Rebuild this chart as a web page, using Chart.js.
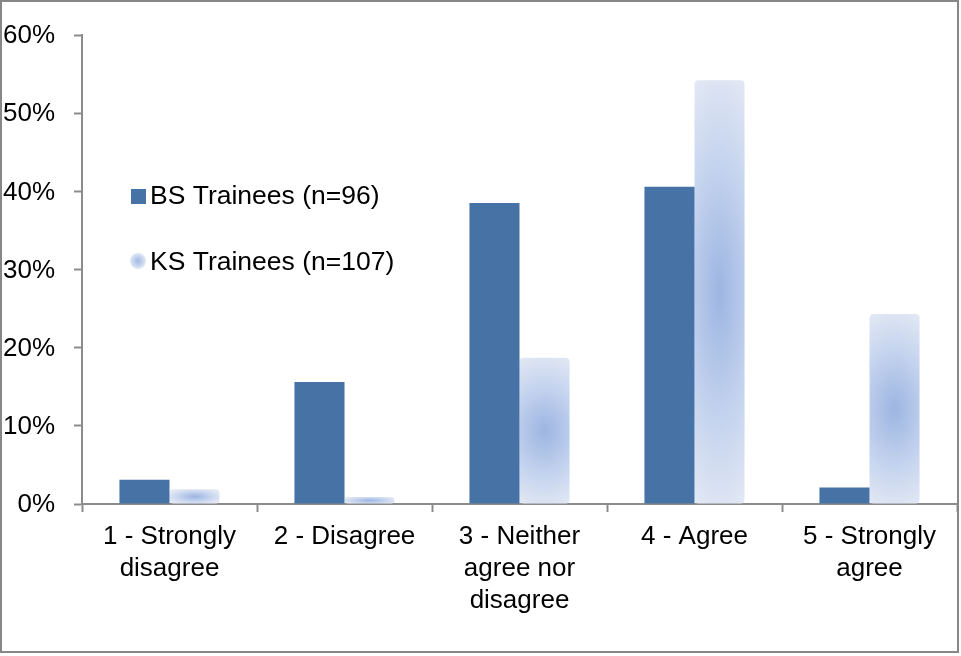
<!DOCTYPE html>
<html>
<head>
<meta charset="utf-8">
<script src="https://cdn.jsdelivr.net/npm/chart.js@4"></script>
<style>
  html, body { margin: 0; padding: 0; background: #fff; }
  #wrap { width: 961px; height: 656px; position: relative; }
</style>
</head>
<body>
<div id="wrap"><canvas id="c" width="961" height="656"></canvas></div>
<script>
// Survey response categories (multi-line axis labels)
const categories = [
  ["1 - Strongly", "disagree"],
  ["2 - Disagree"],
  ["3 - Neither", "agree nor", "disagree"],
  ["4 - Agree"],
  ["5 - Strongly", "agree"]
];
const seriesNames = ["BS Trainees (n=96)", "KS Trainees (n=107)"];
// Share of respondents, in percent
const bsValues = [3.1, 15.6, 38.5, 40.6, 2.1];
const ksValues = [1.9, 0.9, 18.7, 54.2, 24.3];
const yTickValues = [0, 10, 20, 30, 40, 50, 60];

const FONT = '"Liberation Sans", Arial, sans-serif';
const AXIS_GRAY = '#8c8c8c';
const BS_COLOR = '#4672a6';
const CAT_PCT = 0.572;

// Soft radial fill for the KS bars, centred on each bar
function ksFill(ctx) {
  const chart = ctx.chart;
  if (ctx.type !== 'data' || !chart.scales || !chart.scales.x || !chart.chartArea) return '#c5d4ee';
  const xs = chart.scales.x, ys = chart.scales.y;
  const i = ctx.dataIndex;
  const slot = xs.width / categories.length * CAT_PCT / 2;
  const cx = xs.getPixelForValue(i) + slot / 2;
  const top = ys.getPixelForValue(ksValues[i]);
  const base = ys.getPixelForValue(0);
  const cy = (top + base) / 2;
  const halfH = Math.max((base - top) / 2, 4);
  const rx = Math.min(slot / 2 * 2.4, Math.max(halfH * 1.1, slot / 2 * 1.1));
  const ry = halfH * 1.08;
  const off = document.createElement('canvas');
  off.width = chart.width; off.height = chart.height;
  const o = off.getContext('2d');
  o.translate(cx, cy);
  o.scale(rx, ry);
  const g = o.createRadialGradient(0, 0, 0, 0, 0, 1);
  g.addColorStop(0, '#9cb5e1');
  g.addColorStop(0.5, '#c0d0ed');
  g.addColorStop(1, '#e2e8f4');
  o.fillStyle = g;
  o.fillRect(-2, -2, 4, 4);
  return chart.ctx.createPattern(off, 'no-repeat');
}

// White page, outer frame and the in-plot legend
const framePlugin = {
  id: 'frameAndLegend',
  beforeDraw(chart) {
    const c = chart.ctx;
    c.save();
    c.fillStyle = '#fff';
    c.fillRect(0, 0, chart.width, chart.height);
    c.restore();
  },
  afterDraw(chart) {
    const c = chart.ctx;
    c.save();
    c.strokeStyle = '#878787';
    c.lineWidth = 2;
    c.strokeRect(1, 1, 957, 651);

    c.font = '26.5px ' + FONT;
    c.textBaseline = 'middle';
    c.textAlign = 'left';
    // BS marker
    c.fillStyle = BS_COLOR;
    c.fillRect(131, 189, 15, 15);
    c.fillStyle = '#000';
    c.fillText(seriesNames[0], 150, 197);
    // KS marker
    const g = c.createRadialGradient(138, 261, 0, 138, 261, 8.5);
    g.addColorStop(0, '#9fb8e3');
    g.addColorStop(1, '#e6ecf6');
    c.fillStyle = g;
    c.beginPath();
    c.arc(138, 261, 8, 0, Math.PI * 2);
    c.fill();
    c.fillStyle = '#000';
    c.fillText(seriesNames[1], 150, 263);
    c.restore();
  }
};

new Chart(document.getElementById('c'), {
  type: 'bar',
  data: {
    labels: categories,
    datasets: [
      {
        label: seriesNames[0],
        data: bsValues,
        backgroundColor: BS_COLOR,
        borderWidth: 0,
        categoryPercentage: CAT_PCT,
        barPercentage: 1.0
      },
      {
        label: seriesNames[1],
        data: ksValues,
        backgroundColor: ksFill,
        borderWidth: 0,
        borderRadius: 4,
        borderSkipped: false,
        categoryPercentage: CAT_PCT,
        barPercentage: 1.0
      }
    ]
  },
  options: {
    responsive: false,
    animation: false,
    events: [],
    layout: { padding: { top: 35, right: 4, bottom: 0, left: 0 } },
    plugins: {
      legend: { display: false },
      tooltip: { enabled: false }
    },
    scales: {
      x: {
        offset: true,
        grid: {
          offset: true,
          drawOnChartArea: false,
          drawTicks: true,
          tickLength: 8,
          tickColor: AXIS_GRAY,
          tickWidth: 2
        },
        border: { display: true, color: AXIS_GRAY, width: 2 },
        ticks: {
          color: '#000',
          font: { family: FONT, size: 26, lineHeight: 1.23 },
          padding: 9,
          maxRotation: 0,
          autoSkip: false
        },
        afterFit(scale) { scale.height = 152; }
      },
      y: {
        min: 0,
        max: 60,
        afterBuildTicks(scale) { scale.ticks = yTickValues.map(v => ({ value: v })); },
        grid: {
          drawOnChartArea: false,
          drawTicks: true,
          tickLength: 8,
          tickColor: AXIS_GRAY,
          tickWidth: 2
        },
        border: { display: true, color: AXIS_GRAY, width: 2 },
        ticks: {
          color: '#000',
          font: { family: FONT, size: 26 },
          padding: 19,
          labelOffset: 1,
          callback: v => v + '%'
        },
        afterFit(scale) { scale.width = 82; }
      }
    }
  },
  plugins: [framePlugin]
});
</script>
</body>
</html>
